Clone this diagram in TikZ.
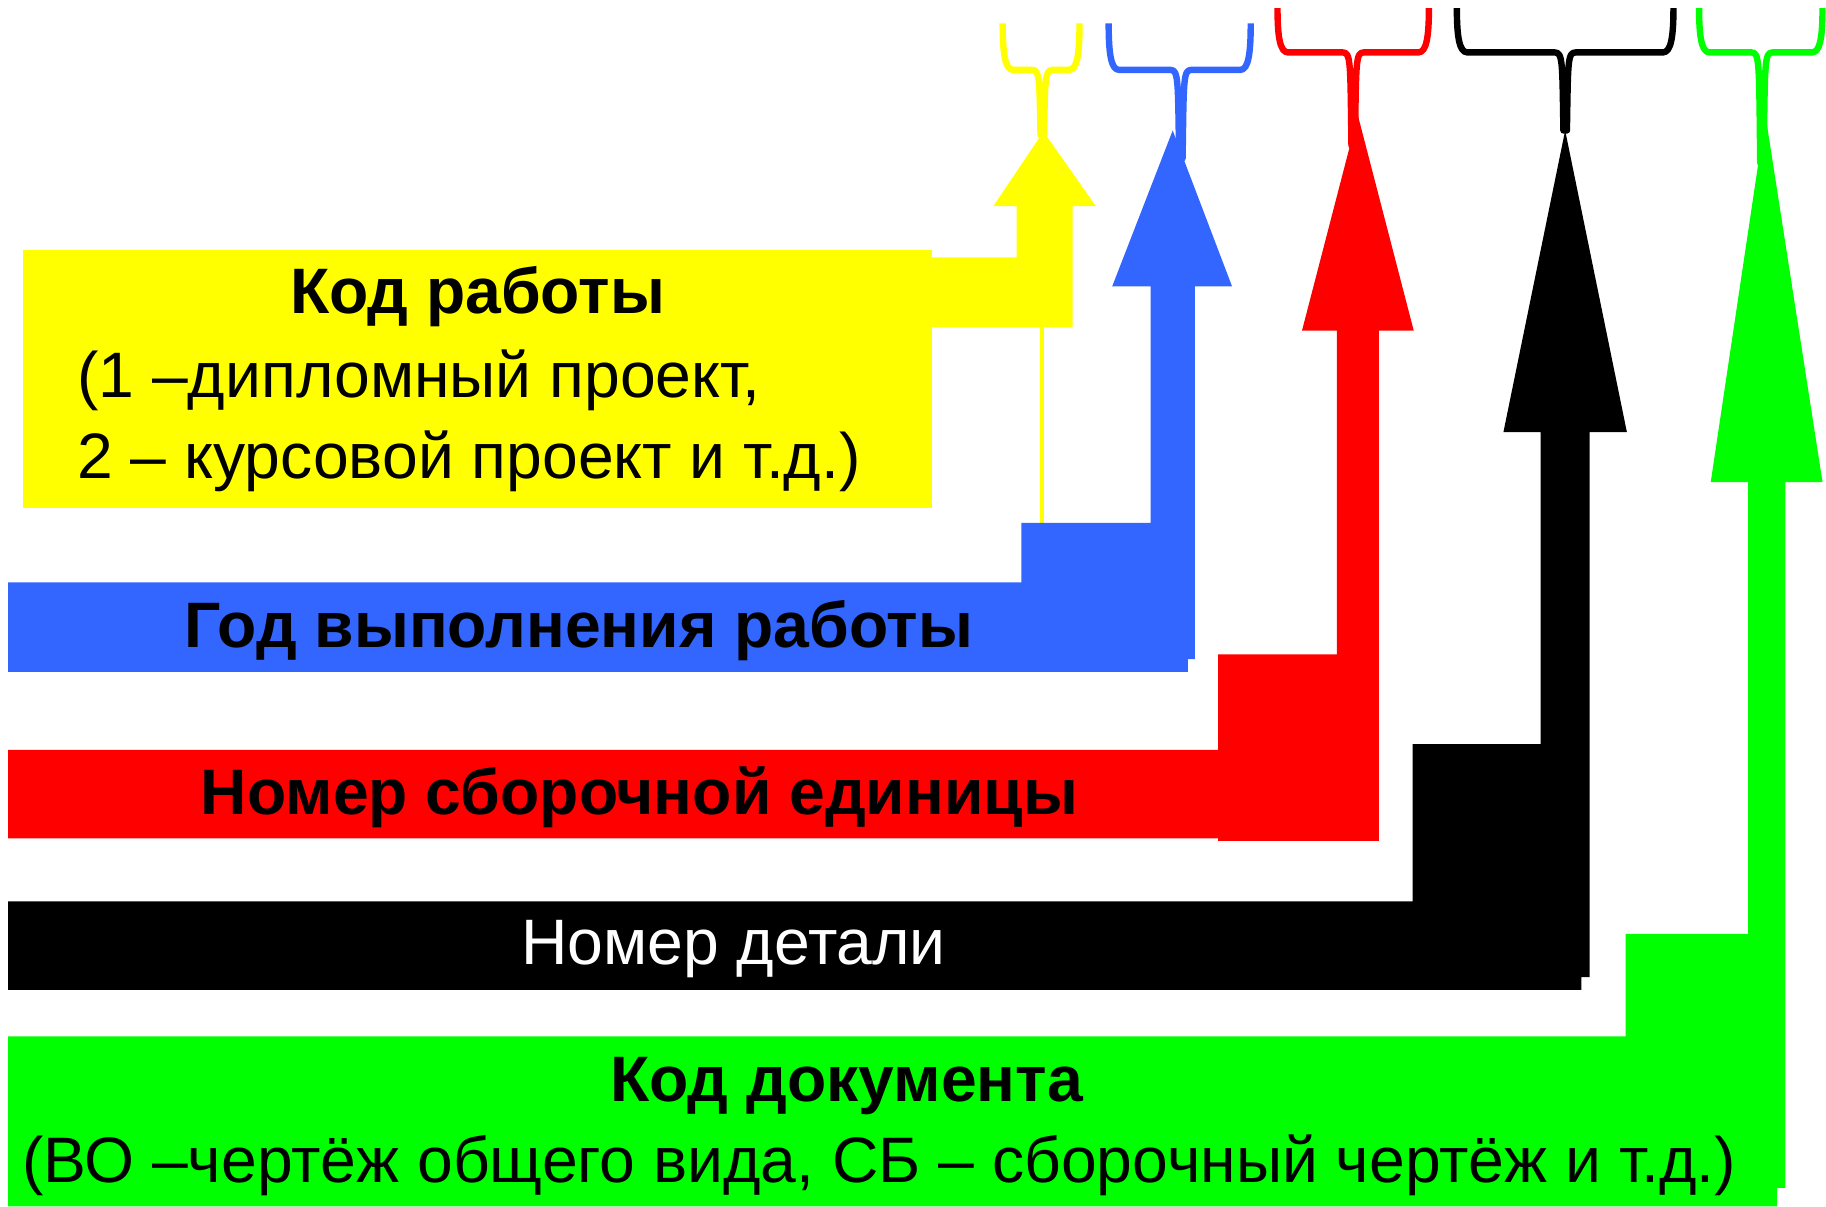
\documentclass[tikz,border=0pt]{standalone}
\usepackage{fontspec}
\setmainfont{Liberation Sans}
\usepackage{tikz}
\definecolor{kyellow}{HTML}{FFFF00}
\definecolor{kblue}{HTML}{3366FF}
\definecolor{kred}{HTML}{FF0000}
\definecolor{kgreen}{HTML}{00FF00}
% #1 colour, #2 left, #3 right, #4 middle, #5 top, #6 bar, #7 stem end
\newcommand{\drawbrace}[7]{%
  \draw[#1,brc] (#2,#5) .. controls (#2,#6-14) and (#2+2,#6) .. (#2+9,#6) -- (#4-9,#6)
    .. controls (#4-2,#6) and (#4-2.5,#6+8) .. (#4-1.5,#7) -- (#4+1.5,#7)
    .. controls (#4+2.5,#6+8) and (#4+2,#6) .. (#4+9,#6) -- (#3-9,#6)
    .. controls (#3-2,#6) and (#3,#6-14) .. (#3,#5);}
\tikzset{
  txt/.style={font=\fontsize{31.4}{37}\selectfont,inner sep=0},
  btxt/.style={font=\fontsize{31.4}{37}\selectfont\bfseries,inner sep=0},
  brc/.style={line width=0.11cm,line join=round}
}

\begin{document}
\begin{tikzpicture}[x=0.02cm,y=-0.02cm] % y goes down, units are pixels
	\useasboundingbox (0,0) rectangle (1568,1036);
	% shapes
	\fill[kyellow] (20,215) rectangle (800,436);
	\fill[kyellow] (800,221) -- (873,221) -- (873,177) -- (853,177) -- (896,113) -- (941,177) -- (921,177) -- (921,281) -- (800,281) -- cycle;
	\draw[kyellow,line width=0.068cm] (895,281) -- (895,450);
	\fill[kblue] (7,500) -- (877,500) -- (877,449) -- (988,449) -- (988,246) -- (955,246) -- (1007,112) -- (1058,246) -- (1026,246) -- (1026,566) -- (1020,566) -- (1020,577) -- (7,577) -- cycle;
	\fill[kred] (7,644) -- (1046,644) -- (1046,562) -- (1148,562) -- (1148,284) -- (1118,284) -- (1166,99) -- (1214,284) -- (1184,284) -- (1184,722) -- (1046,722) -- (1046,720) -- (7,720) -- cycle;
	\fill[black] (7,774) -- (1213,774) -- (1213,639) -- (1323,639) -- (1323,371) -- (1291,371) -- (1344,112) -- (1397,371) -- (1365,371) -- (1365,839) -- (1358,839) -- (1358,850) -- (7,850) -- cycle;
	\fill[kgreen] (7,890) -- (1396,890) -- (1396,802) -- (1501,802) -- (1501,414) -- (1469,414) -- (1516,99) -- (1565,414) -- (1533,414) -- (1533,1020) -- (1526,1020) -- (1526,1036) -- (7,1036) -- cycle;
	% braces
	\drawbrace{kyellow}{861}{927}{895}{20}{60}{116}
	\drawbrace{kblue}{952}{1074}{1014}{20}{60}{136}
	\drawbrace{kred}{1097}{1227}{1162}{7}{45}{125}
	\drawbrace{black}{1251}{1437}{1344}{7}{45}{112}
	\drawbrace{kgreen}{1459}{1565}{1513}{7}{45}{140}
	% texts
	\node[btxt,anchor=base] (T1) at (410,269) {Код работы};
	\node[txt,anchor=base west] (T2) at (66,341) {(1 –дипломный проект,};
	\node[txt,anchor=base west] (T3) at (66,411) {2 – курсовой проект и т.д.)};
	\node[btxt,anchor=base] (T4) at (497,556) {Год выполнения работы};
	\node[btxt,anchor=base] (T5) at (549,699) {Номер сборочной единицы};
	\node[txt,anchor=base,text=white] (T6) at (630,828) {Номер детали};
	\node[btxt,anchor=base] (T7) at (727,946) {Код документа};
	\node[txt,anchor=base] (T8) at (755,1015) {(ВО –чертёж общего вида, СБ – сборочный чертёж и т.д.)};
\end{tikzpicture}
\end{document}
